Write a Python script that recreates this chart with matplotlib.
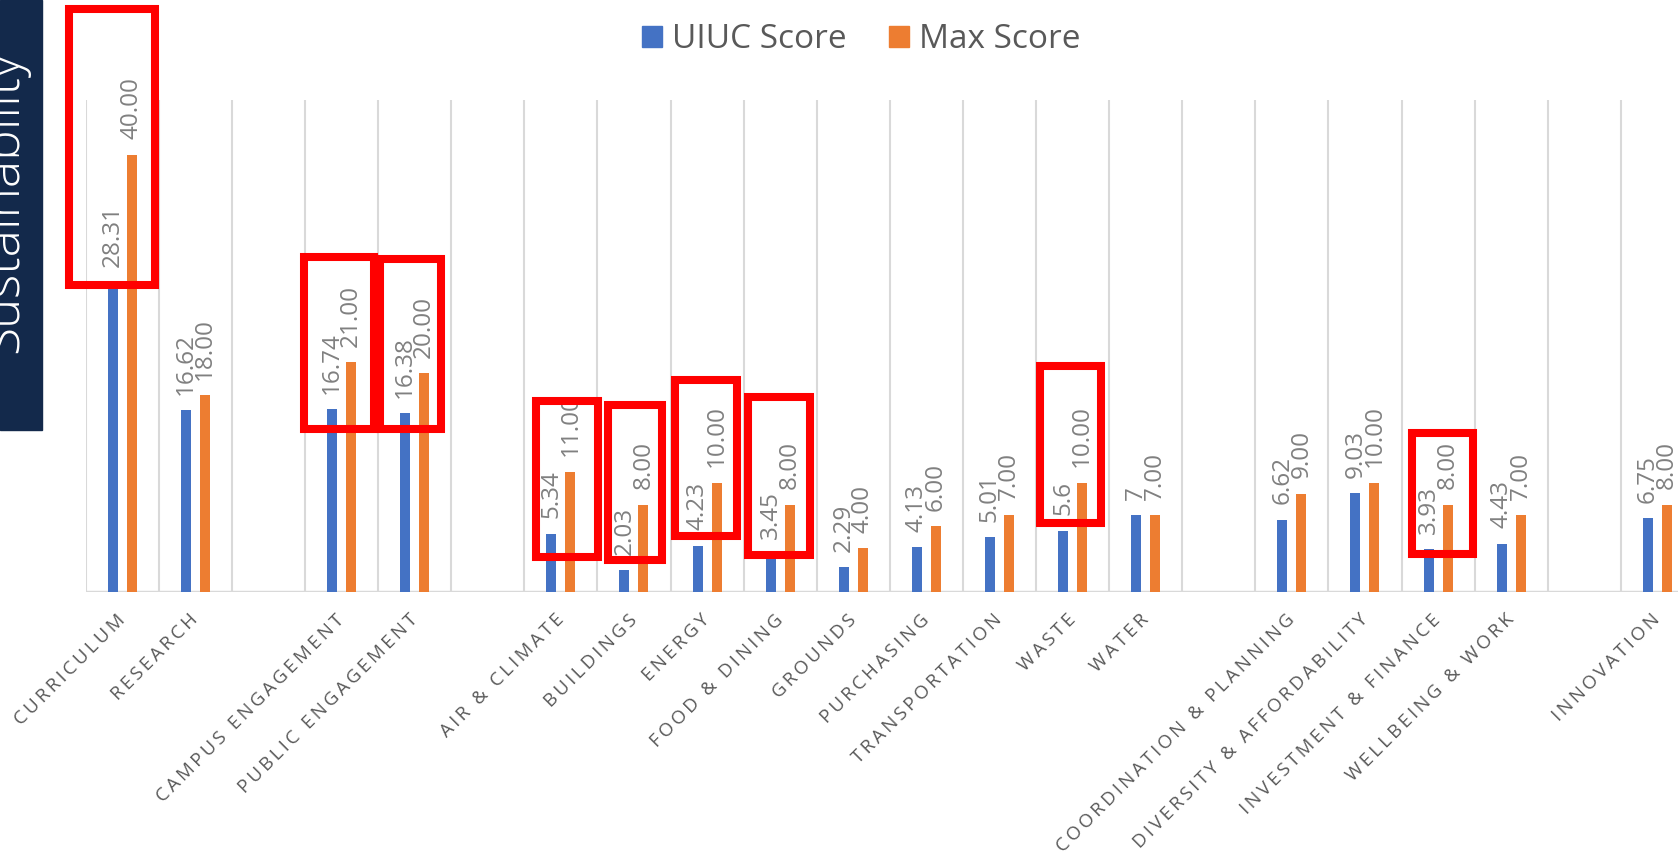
import numpy as np
import matplotlib
matplotlib.use("Agg")
import matplotlib.pyplot as plt
from matplotlib.patches import Rectangle, Patch

# === STARS category scores (blank entries are spacer slots between sections) ===
categories = [
    "CURRICULUM", "RESEARCH", "",
    "CAMPUS ENGAGEMENT", "PUBLIC ENGAGEMENT", "",
    "AIR & CLIMATE", "BUILDINGS", "ENERGY", "FOOD & DINING", "GROUNDS",
    "PURCHASING", "TRANSPORTATION", "WASTE", "WATER", "",
    "COORDINATION & PLANNING", "DIVERSITY & AFFORDABILITY",
    "INVESTMENT & FINANCE", "WELLBEING & WORK", "",
    "INNOVATION",
]
uiuc_score = [28.31, 16.62, None, 16.74, 16.38, None,
              5.34, 2.03, 4.23, 3.45, 2.29, 4.13, 5.01, 5.6, 7, None,
              6.62, 9.03, 3.93, 4.43, None, 6.75]
max_score = [40, 18, None, 21, 20, None,
             11, 8, 10, 8, 4, 6, 7, 10, 7, None,
             9, 10, 8, 7, None, 8]

# highlight boxes: (x0, x1, y0, y1) in data units
highlights = [
    (-0.73, 0.45, 28.1, 53.3),
    (2.49, 3.44, 14.9, 30.6),
    (3.53, 4.36, 14.9, 30.5),
    (5.66, 6.51, 3.2, 17.5),
    (6.65, 7.38, 2.9, 17.1),
    (7.56, 8.41, 5.1, 19.4),
    (8.56, 9.41, 3.4, 17.8),
    (12.55, 13.39, 6.3, 20.7),
    (17.64, 18.48, 3.5, 14.5),
]

BLUE = "#4472C4"
ORANGE = "#ED7D31"
GRID = "#D9D9D9"
LABEL = "#808080"
TEXT = "#595959"
FONT = ["Open Sans", "DejaVu Sans"]

plt.rcParams["font.family"] = FONT

W, H = 1678, 855
fig = plt.figure(figsize=(W / 100, H / 100), dpi=100)

# navy side banner
fig.patches.append(Rectangle((0, 1 - 430 / H), 42 / W, 430 / H,
                             transform=fig.transFigure, color="#13294B", zorder=0))
fig.text(17 / W, 1 - 353 / H, "Sustainability", color="white", fontsize=37,
         fontweight="light", rotation=90, rotation_mode="anchor",
         ha="left", va="baseline")

ax = fig.add_axes([85.7 / W, (H - 592) / H, 22 * 73.1 / W, 492 / H])

n = len(categories)
x = np.arange(n)
u = np.array([np.nan if v is None else v for v in uiuc_score], dtype=float)
m = np.array([np.nan if v is None else v for v in max_score], dtype=float)

bw = 0.137
off = 0.13
ax.bar(x - off, u, width=bw, color=BLUE, label="UIUC Score", zorder=3)
ax.bar(x + off, m, width=bw, color=ORANGE, label="Max Score", zorder=3)

for i in range(n):
    if np.isnan(u[i]):
        continue
    ax.annotate(f"{u[i]:g}", (x[i] - off, u[i]), xytext=(0, 11),
                textcoords="offset points", rotation=90, ha="center",
                va="bottom", fontsize=17.5, color=LABEL, zorder=4)
    ax.annotate(f"{m[i]:.2f}", (x[i] + off, m[i]), xytext=(0, 11),
                textcoords="offset points", rotation=90, ha="center",
                va="bottom", fontsize=17.5, color=LABEL, zorder=4)

# vertical separators between categories and the base line
ax.vlines(np.arange(n + 1) - 0.5, 0, 45, color=GRID, lw=1.5, zorder=1)
ax.axhline(0, color=GRID, lw=2.5, zorder=2)

ax.set_xlim(-0.5, n - 0.5)
ax.set_ylim(0, 45)
ax.set_yticks([])
for s in ax.spines.values():
    s.set_visible(False)

# letter-spaced category names
spaced = ["\u2009".join(c) for c in categories]
ax.set_xticks(x)
ax.set_xticklabels(spaced, rotation=45, ha="right", va="center",
                   rotation_mode="anchor", fontsize=13.5, color=TEXT)
ax.tick_params(axis="x", length=0, pad=18)

for x0, x1, y0, y1 in highlights:
    ax.add_patch(Rectangle((x0, y0), x1 - x0, y1 - y0, fill=False,
                           edgecolor="#FF0000", lw=5.8, joinstyle="miter",
                           clip_on=False, zorder=6))

handles = [Patch(color=BLUE), Patch(color=ORANGE)]
fig.legend(handles, ["UIUC Score", "Max Score"], loc="center",
           bbox_to_anchor=(861 / W, 1 - 40 / H), ncol=2, frameon=False,
           fontsize=24, labelcolor=TEXT, handlelength=0.6, handleheight=0.6,
           handletextpad=0.3, columnspacing=1.27)

fig.savefig("out.png", dpi=100)
